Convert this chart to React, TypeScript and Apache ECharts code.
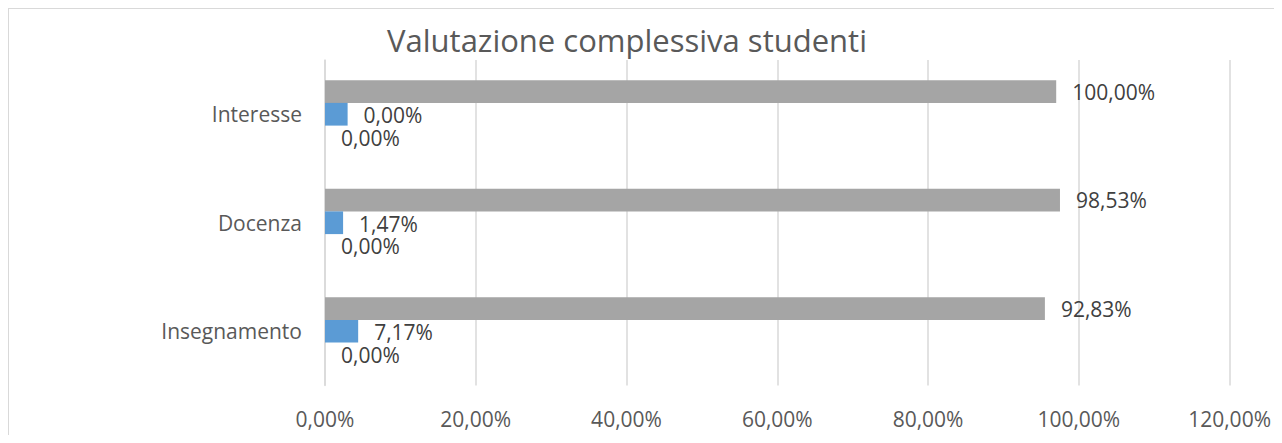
import React, { useEffect, useRef } from "react";
import * as echarts from "echarts";

const titleText = "Valutazione complessiva studenti";
const categories = ["Insegnamento", "Docenza", "Interesse"];
// bar lengths as drawn in the picture (percent)
const grayValues = [95.5, 97.5, 97.0];
const blueValues = [4.4, 2.4, 3.0];
const zeroValues = [0, 0, 0];
// data labels as printed in the picture
const grayLabels = ["92,83%", "98,53%", "100,00%"];
const blueLabels = ["7,17%", "1,47%", "0,00%"];
const zeroLabels = ["0,00%", "0,00%", "0,00%"];
const xTicks = [0, 20, 40, 60, 80, 100, 120];

const FONT = "'Open Sans', 'Noto Sans', sans-serif";

export default function App() {
  const ref = useRef<HTMLDivElement>(null);
  useEffect(() => {
    if (!ref.current) return;
    const chart = echarts.init(ref.current, undefined, { renderer: "svg" });
    const labelStyle = (labels: string[], dy: number) => ({
      show: true,
      position: "right",
      distance: 16,
      offset: [0, dy],
      fontFamily: FONT,
      fontSize: 21,
      lineHeight: 21,
      color: "#404040",
      formatter: (p: any) => labels[p.dataIndex],
    });
    chart.setOption({
      animation: false,
      graphic: [
        {
          type: "text",
          x: 618,
          y: 31,
          style: {
            text: titleText,
            fontFamily: FONT,
            fontSize: 31,
            fill: "#595959",
            textAlign: "center",
            textVerticalAlign: "middle",
          },
        },
      ],
      grid: { left: 316, top: 51, width: 911, height: 325.5 },
      xAxis: {
        type: "value",
        min: xTicks[0],
        max: xTicks[xTicks.length - 1],
        interval: 20,
        axisLine: { show: false },
        axisTick: { show: false },
        splitLine: { show: true, lineStyle: { color: "#d9d9d9", width: 1.5 } },
        axisLabel: {
          margin: 23,
          fontFamily: FONT,
          fontSize: 21,
          color: "#595959",
          formatter: (v: number) => v.toFixed(2).replace(".", ",") + "%",
        },
      },
      yAxis: {
        type: "category",
        data: categories,
        axisLine: { show: true, lineStyle: { color: "#d9d9d9", width: 1.5 } },
        axisTick: { show: false },
        axisLabel: { margin: 23, fontFamily: FONT, fontSize: 21, color: "#595959" },
      },
      series: [
        {
          type: "bar",
          data: grayValues,
          barWidth: 22.7,
          barGap: "0%",
          itemStyle: { color: "#a5a5a5" },
          label: labelStyle(grayLabels, 0),
        },
        {
          type: "bar",
          data: blueValues,
          barWidth: 22.7,
          barGap: "0%",
          itemStyle: { color: "#5b9bd5" },
          label: labelStyle(blueLabels, 1),
        },
        {
          type: "bar",
          data: zeroValues,
          barWidth: 22.7,
          barGap: "0%",
          itemStyle: { color: "#ed7d31" },
          label: labelStyle(zeroLabels, 1),
        },
      ],
    });
    return () => chart.dispose();
  }, []);
  return (
    <div
      style={{
        width: 1266,
        height: 427,
        borderTop: "1px solid #d9d9d9",
        borderLeft: "1px solid #d9d9d9",
        boxSizing: "border-box",
        background: "#fff",
      }}
    >
      <div ref={ref} style={{ width: 1265, height: 426 }} />
    </div>
  );
}
